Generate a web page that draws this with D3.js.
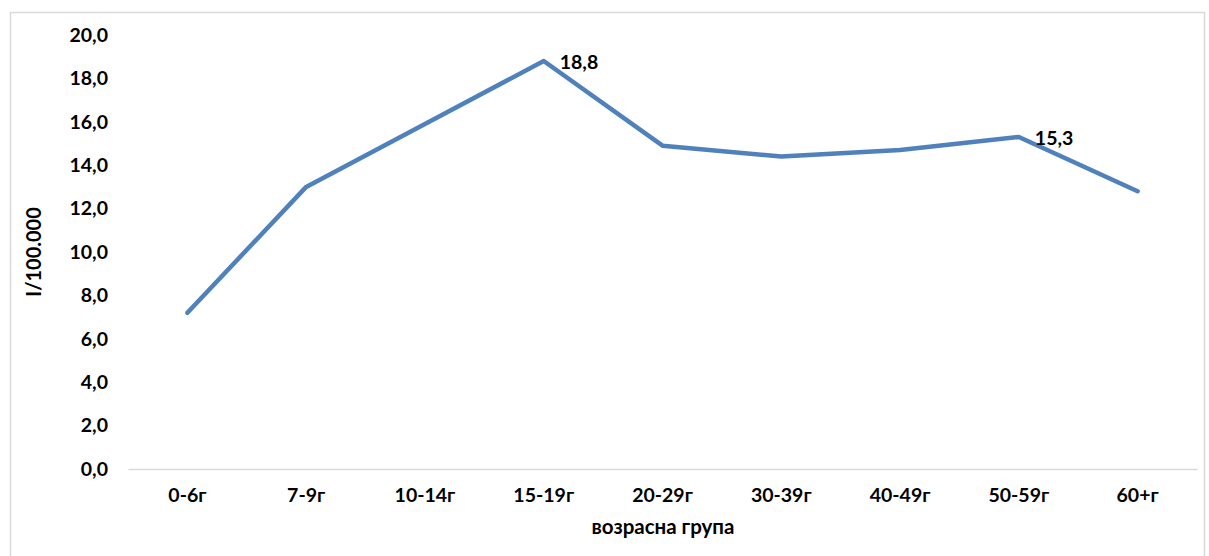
<!DOCTYPE html>
<html>
<head>
<meta charset="utf-8">
<script src="https://cdn.jsdelivr.net/npm/d3@7"></script>
<style>
  html, body { margin: 0; padding: 0; background: #fff; }
  svg { display: block; }
  text { font-family: Lato, "Open Sans", sans-serif; font-weight: bold; fill: #000; }
</style>
</head>
<body>
<svg id="chart" width="1209" height="556"></svg>
<script>
// Age groups and incidence rate per 100.000
const categories = ["0-6г", "7-9г", "10-14г", "15-19г", "20-29г", "30-39г", "40-49г", "50-59г", "60+г"];
const values = [7.2, 13.0, 15.9, 18.8, 14.9, 14.4, 14.7, 15.3, 12.8];
const labelled = ["15-19г", "50-59г"];
const yTicks = [0, 2, 4, 6, 8, 10, 12, 14, 16, 18, 20];
const yTitle = "I/100.000";
const xTitle = "возрасна група";

const svg = d3.select("#chart");
const plot = { left: 128, right: 1197, top: 35, bottom: 469 };

// chart frame
svg.append("rect")
  .attr("x", 10.5).attr("y", 12.5)
  .attr("width", 1194).attr("height", 560)
  .attr("fill", "#fff").attr("stroke", "#d9d9d9").attr("stroke-width", 1.5);

const x = d3.scaleBand().domain(categories).range([plot.left, plot.right]);
const y = d3.scaleLinear().domain([0, 20]).range([plot.bottom, plot.top]);

const fmt = v => d3.format(".1f")(v).replace(".", ",");

// y axis labels (no line, no ticks)
const yAxis = d3.axisLeft(y).tickValues(yTicks).tickFormat(fmt).tickSize(0).tickPadding(20);
const gy = svg.append("g").attr("transform", `translate(${plot.left},0)`).call(yAxis);
gy.select(".domain").remove();
gy.selectAll("text").attr("font-size", 19.5).attr("font-family", "Lato, sans-serif").attr("font-weight", "bold").attr("fill", "#000");

// x axis with baseline
const xAxis = d3.axisBottom(x).tickSize(0).tickPadding(19);
const gx = svg.append("g").attr("transform", `translate(0,${plot.bottom})`).call(xAxis);
gx.select(".domain").attr("stroke", "#d9d9d9").attr("stroke-width", 1.5);
gx.selectAll("text").attr("font-size", 19.5).attr("font-family", "Lato, sans-serif").attr("font-weight", "bold").attr("fill", "#000");

// series line
const line = d3.line()
  .x((d, i) => x(categories[i]) + x.bandwidth() / 2)
  .y(d => y(d));

svg.append("path")
  .datum(values)
  .attr("d", line)
  .attr("fill", "none")
  .attr("stroke", "#4f81bd")
  .attr("stroke-width", 4.5)
  .attr("stroke-linejoin", "round")
  .attr("stroke-linecap", "round");

// data labels
categories.forEach((c, i) => {
  if (!labelled.includes(c)) return;
  svg.append("text")
    .attr("x", x(c) + x.bandwidth() / 2 + 16)
    .attr("y", y(values[i]) + 8)
    .attr("font-size", 19.5)
    .text(fmt(values[i]));
});

// axis titles
svg.append("text")
  .attr("transform", `translate(41,${(plot.top + plot.bottom) / 2}) rotate(-90)`)
  .attr("text-anchor", "middle")
  .attr("font-size", 20)
  .text(yTitle);

svg.append("text")
  .attr("x", 663)
  .attr("y", 534)
  .attr("text-anchor", "middle")
  .attr("font-size", 20.5)
  .text(xTitle);
</script>
</body>
</html>
